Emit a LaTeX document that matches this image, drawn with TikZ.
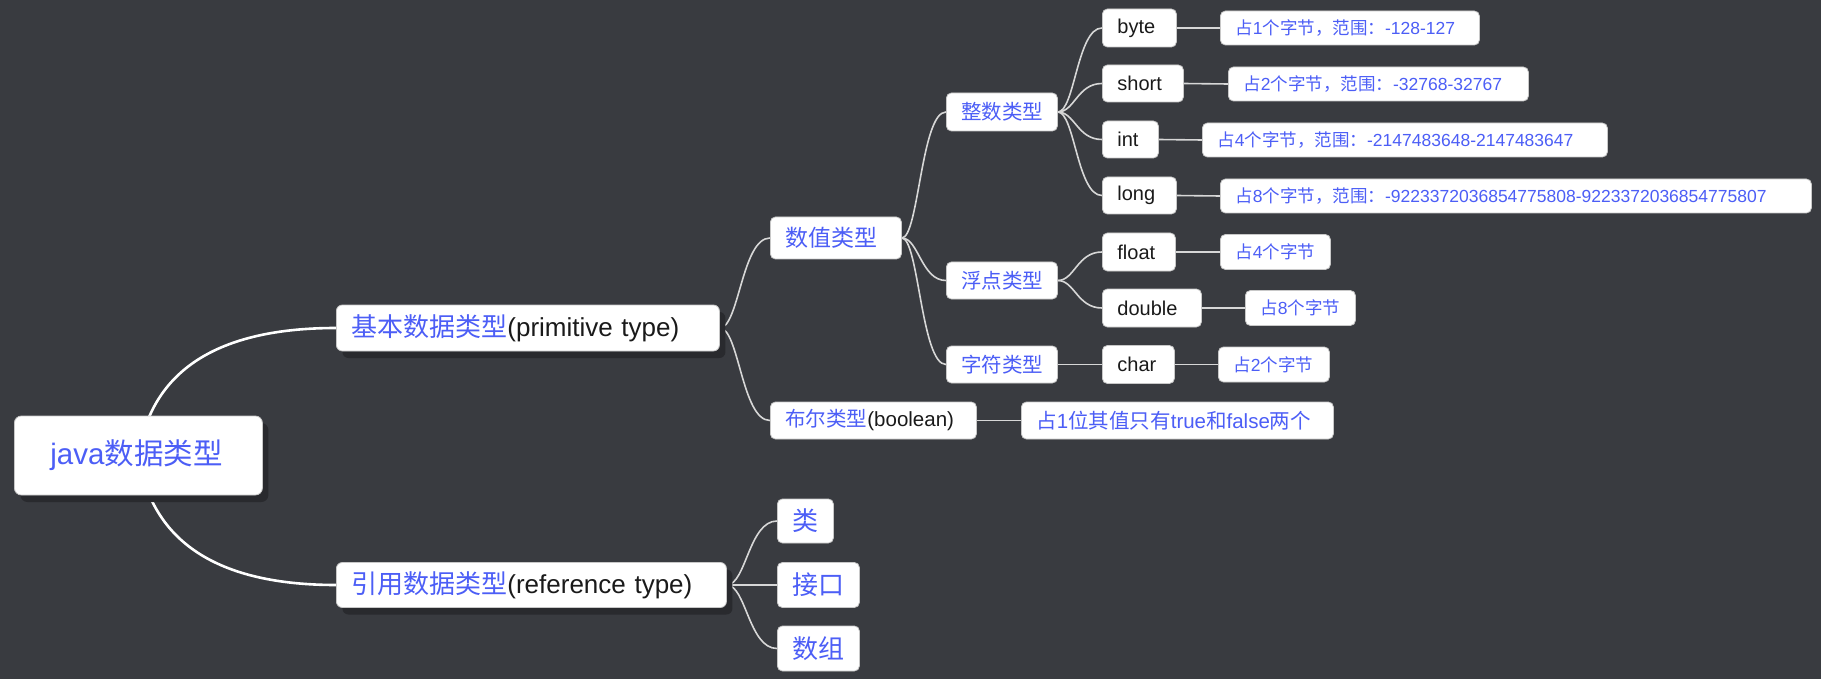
\documentclass[tikz,border=0pt]{standalone}
\usepackage{fontspec}
\setmainfont{Liberation Sans}
\newfontfamily\cjk{Noto Sans CJK SC}
\usetikzlibrary{calc,shadows}
\pgfdeclarelayer{bg}
\pgfsetlayers{bg,main}
\definecolor{bgc}{RGB}{57,59,64}
\definecolor{blu}{RGB}{76,94,246}
\definecolor{blk}{RGB}{26,26,26}
\definecolor{shd}{RGB}{41,42,46}
\definecolor{bord}{RGB}{200,200,200}
\definecolor{lnc}{RGB}{215,215,215}
\newcommand\C[1]{{\cjk #1}}
\newcommand\K[1]{\textcolor{blk}{#1}}
\begin{document}
\begin{tikzpicture}[x=1pt,y=-1pt,
  box/.style={draw=bord, line width=0.8pt, fill=white, rounded corners=5pt, anchor=west, inner xsep=15pt, inner ysep=0pt, align=left, text=blu},
  wh/.style 2 args={text width=#1pt, minimum height=#2pt},
  big/.style={drop shadow={shadow xshift=6pt, shadow yshift=-7pt, fill=shd, opacity=1}},
  fA/.style={font=\fontsize{29.5}{34}\selectfont},
  fB/.style={font=\fontsize{26}{30}\selectfont},
  fC/.style={font=\fontsize{23}{27}\selectfont},
  fD/.style={font=\fontsize{20.5}{24}\selectfont},
  fE/.style={font=\fontsize{20}{24}\selectfont, text=blk},
  fF/.style={font=\fontsize{17.5}{21}\selectfont},
  conn/.style={draw=lnc, line width=1.6pt, to path={.. controls ($(\tikztostart)!0.38!(\tikztostart -| \tikztotarget)$) and ($(\tikztotarget)!0.56!(\tikztotarget -| \tikztostart)$) .. (\tikztotarget)}},
  straight/.style={draw=lnc, line width=1.6pt},
  rootconn/.style={draw=white, line width=2.6pt}
]
\useasboundingbox (0,0) rectangle (1821,679);

% level 0 / 1
\node[box, big, wh={176}{79}, inner xsep=36pt, rounded corners=7pt, fA] (root) at (14,455.5) {java\C{数据类型}};
\node[box, big, wh={353}{46}, rounded corners=6pt, fB] (ki) at (336,328) {\C{基本数据类型}\K{(primitive type)}};
\node[box, big, wh={360}{45}, rounded corners=6pt, fB] (yy) at (336,585) {\C{引用数据类型}\K{(reference type)}};

% level 2
\node[box, wh={101}{42}, fC] (sz) at (770,238) {\C{数值类型}};
\node[box, wh={176}{37}, fD] (br) at (770,420.5) {\C{布尔类型}\K{(boolean)}};
\node[box, wh={282}{37}, fD] (b1) at (1021,420.5) {\C{占}1\C{位其值只有}true\C{和}false\C{两个}};

% level 3
\node[box, wh={81}{38}, fD] (zs) at (946,112) {\C{整数类型}};
\node[box, wh={81}{37}, fD] (fd) at (946,280.5) {\C{浮点类型}};
\node[box, wh={81}{37}, fD] (zf) at (946,364.5) {\C{字符类型}};

% level 4
\node[box, wh={44}{38}, fE] (tbyte) at (1102,28) {byte};
\node[box, wh={51}{37}, fE] (tshort) at (1102,83.5) {short};
\node[box, wh={26}{37}, fE] (tint) at (1102,139.5) {int};
\node[box, wh={44}{37}, fE] (tlong) at (1102,195.5) {long};
\node[box, wh={43}{38}, fE] (tfloat) at (1102,252) {float};
\node[box, wh={69}{38}, fE] (tdouble) at (1102,308) {double};
\node[box, wh={42}{38}, fE] (tchar) at (1102,364.5) {char};

% level 5
\node[box, wh={229}{34}, fF] (d1) at (1220,28) {\C{占}1\C{个字节，范围：}-128-127};
\node[box, wh={270}{34}, fF] (d2) at (1228,84) {\C{占}2\C{个字节，范围：}-32768-32767};
\node[box, wh={375}{34}, fF] (d4) at (1202,140) {\C{占}4\C{个字节，范围：}-2147483648-2147483647};
\node[box, wh={561}{34}, fF] (d8) at (1220,196) {\C{占}8\C{个字节，范围：}-9223372036854775808-9223372036854775807};
\node[box, wh={80}{35}, fF] (f4) at (1220,252) {\C{占}4\C{个字节}};
\node[box, wh={80}{35}, fF] (f8) at (1245,308) {\C{占}8\C{个字节}};
\node[box, wh={81}{35}, fF] (c2) at (1218,364.5) {\C{占}2\C{个字节}};

% reference children
\node[box, wh={26}{44}, fB] (lei) at (777,521) {\C{类}};
\node[box, wh={52}{45}, fB] (jk) at (777,585) {\C{接口}};
\node[box, wh={52}{45}, fB] (sg) at (777,648.5) {\C{数组}};

\begin{pgfonlayer}{bg}
\fill[bgc] (0,0) rectangle (1821,679);
\draw[rootconn] (root.center) .. controls ($(root.center)!0.667!(root.center |- ki.west) + (13,0)$) and ($(ki.west)!0.6!(ki.west -| root.center)$) .. (ki.west);
\draw[rootconn] (root.center) .. controls ($(root.center)!0.667!(root.center |- yy.west) + (13,0)$) and ($(yy.west)!0.6!(yy.west -| root.center)$) .. (yy.west);
\draw[conn] (ki.east) to (sz.west);
\draw[conn] (ki.east) to (br.west);
\draw[straight] (br.east) -- (b1.west);
\draw[conn] (sz.east) to (zs.west);
\draw[conn] (sz.east) to (fd.west);
\draw[conn] (sz.east) to (zf.west);
\draw[conn] (zs.east) to (tbyte.west);
\draw[conn] (zs.east) to (tshort.west);
\draw[conn] (zs.east) to (tint.west);
\draw[conn] (zs.east) to (tlong.west);
\draw[conn] (fd.east) to (tfloat.west);
\draw[conn] (fd.east) to (tdouble.west);
\draw[straight] (zf.east) -- (tchar.west);
\draw[straight] (tbyte.east) -- (d1.west);
\draw[straight] (tshort.east) -- (d2.west);
\draw[straight] (tint.east) -- (d4.west);
\draw[straight] (tlong.east) -- (d8.west);
\draw[straight] (tfloat.east) -- (f4.west);
\draw[straight] (tdouble.east) -- (f8.west);
\draw[straight] (tchar.east) -- (c2.west);
\draw[conn] (yy.east) to (lei.west);
\draw[straight] (yy.east) -- (jk.west);
\draw[conn] (yy.east) to (sg.west);
\end{pgfonlayer}
\end{tikzpicture}
\end{document}
